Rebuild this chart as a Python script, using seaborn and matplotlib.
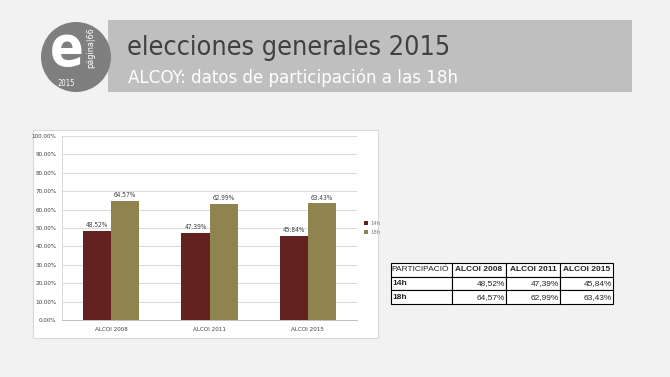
import matplotlib
matplotlib.use("Agg")
import matplotlib.pyplot as plt
import seaborn as sns
import pandas as pd
from matplotlib.patches import Rectangle, Circle
from matplotlib.ticker import FuncFormatter

categories = ["ALCOI 2008", "ALCOI 2011", "ALCOI 2015"]
series_names = ["14h", "18h"]
values_14h = [48.52, 47.39, 45.84]
values_18h = [64.57, 62.99, 63.43]
title_text = "elecciones generales 2015"
subtitle_text = "ALCOY: datos de participación a las 18h"
table_header = ["PARTICIPACIÓ", "ALCOI 2008", "ALCOI 2011", "ALCOI 2015"]

sns.set_theme(style="white")
plt.rcParams['font.family'] = ['DejaVu Sans']

W, H = 670, 377
fig = plt.figure(figsize=(W / 100, H / 100), dpi=100)
fig.patch.set_facecolor("#f2f2f2")

COND = dict(fontstretch="condensed")

def fx(x):
    return x / W

def fy(y):
    return 1 - y / H

# Header band
fig.add_artist(Rectangle((fx(108), fy(92)), fx(632) - fx(108), fy(20) - fy(92),
                         transform=fig.transFigure, facecolor="#bfbfbf", edgecolor="none", zorder=-2))
# Chart panel
fig.add_artist(Rectangle((fx(33), fy(338)), fx(378) - fx(33), fy(130) - fy(338),
                         transform=fig.transFigure, facecolor="white", edgecolor="#d9d9d9", lw=0.8, zorder=-2))

# Logo circle
lax = fig.add_axes([0, 0, 1, 1], facecolor="none")
lax.set_xlim(0, W)
lax.set_ylim(H, 0)
lax.set_aspect("equal")
lax.axis("off")
lax.add_patch(Circle((76, 57), 35, facecolor="#7f7f7f", edgecolor="none"))
lax.text(67, 50, "e", color="white", fontsize=40, fontweight="bold", ha="center", va="center", **COND)
lax.text(91, 48, "página|66", color="white", fontsize=6.5, rotation=90, ha="center", va="center", **COND)
lax.text(66, 84, "2015", color="white", fontsize=5.5, ha="center", va="center", **COND)

fig.text(fx(127), fy(55), title_text, color="#404040", fontsize=19.4, ha="left", va="baseline", **COND)
fig.text(fx(128), fy(83), subtitle_text, color="white", fontsize=13.3, ha="left", va="baseline", **COND)

df = pd.DataFrame({
    "cat": categories * 2,
    "serie": [series_names[0]] * 3 + [series_names[1]] * 3,
    "val": values_14h + values_18h,
})

ax = fig.add_axes([fx(62), fy(320), fx(357) - fx(62), fy(136) - fy(320)])
ax.set_facecolor("white")
sns.barplot(data=df, x="cat", y="val", hue="serie", ax=ax, width=0.57,
            palette=["#63221f", "#8f8350"], saturation=1, edgecolor="none")
ax.set_ylim(0, 100)
ax.set_yticks(range(0, 101, 10))
ax.yaxis.set_major_formatter(FuncFormatter(lambda v, p: f"{v:.2f}%"))
ax.grid(axis="y", color="#d9d9d9", lw=0.7)
ax.set_axisbelow(True)
for s in ["top", "right"]:
    ax.spines[s].set_visible(False)
ax.spines["left"].set_color("#d9d9d9")
ax.spines["bottom"].set_color("#bfbfbf")
ax.spines["left"].set_linewidth(0.7)
ax.spines["bottom"].set_linewidth(0.7)
ax.tick_params(axis="y", labelsize=4.5, colors="#404040", length=2, width=0.5, pad=2)
ax.tick_params(axis="x", labelsize=4.5, colors="#404040", length=0, pad=5)
ax.set_xticks([-0.5, 0.5, 1.5, 2.5], minor=True)
ax.tick_params(axis="x", which="minor", length=3, width=0.5, color="#bfbfbf")
for lbl in ax.get_xticklabels() + ax.get_yticklabels():
    lbl.set_fontstretch("condensed")
ax.set_xlabel("")
ax.set_ylabel("")
for c in ax.containers:
    ax.bar_label(c, labels=[f"{v:.2f}%" for v in c.datavalues], fontsize=4.7,
                 color="#404040", padding=2, fontstretch="condensed")
leg = ax.legend(loc="center left", bbox_to_anchor=(1.005, 0.5), frameon=False,
                fontsize=4.3, handlelength=0.7, handleheight=0.7, handletextpad=0.4,
                labelspacing=0.6)
for t in leg.get_texts():
    t.set_color("#7f7f7f")
    t.set_fontstretch("condensed")

# Table
tax = fig.add_axes([fx(391), fy(304), fx(613) - fx(391), fy(263) - fy(304)])
tax.axis("off")
rows = [table_header,
        ["14h"] + [f"{v:.2f}%".replace(".", ",") for v in values_14h],
        ["18h"] + [f"{v:.2f}%".replace(".", ",") for v in values_18h]]
tbl = tax.table(cellText=rows, bbox=[0, 0, 1, 1], colWidths=[61, 54, 54, 53])
tbl.auto_set_font_size(False)
for (r, c), cell in tbl.get_celld().items():
    cell.set_edgecolor("black")
    cell.set_linewidth(0.8)
    cell.set_facecolor("white")
    txt = cell.get_text()
    txt.set_fontsize(6.0)
    txt.set_fontfamily("Liberation Sans")
    if r == 0 and c == 0:
        txt.set_ha("left")
        cell.PAD = 0.01
    elif r == 0:
        txt.set_fontweight("bold")
        txt.set_ha("center")
    elif c == 0:
        txt.set_fontweight("bold")
        txt.set_ha("left")
        cell.PAD = 0.02
    else:
        txt.set_ha("right")
        cell.PAD = 0.02

fig.savefig("out.png", dpi=100, facecolor=fig.get_facecolor())
